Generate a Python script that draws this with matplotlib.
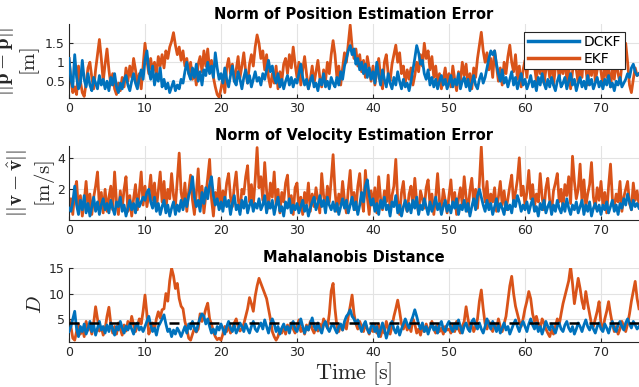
import numpy as np
import matplotlib
matplotlib.use("Agg")
import matplotlib.pyplot as plt

# 색상 / 스타일
BLUE = "#0072BD"
ORANGE = "#D95319"
AX_COLOR = "#262626"
GRID_COLOR = "#e3e3e3"

plt.rcParams["mathtext.fontset"] = "cm"
plt.rcParams["font.family"] = "DejaVu Sans"

# ---- data (20 samples per 5 s) ----
pos_ekf = [
    1.10, 0.55, 0.20, 0.35, 0.15, 0.90, 0.50, 0.20, 0.10, 0.45, 0.85, 1.00, 0.60, 0.30, 0.80, 1.20, 1.60, 1.10, 0.50, 0.95,
    1.35, 0.80, 0.40, 0.70, 0.30, 0.15, 0.45, 0.25, 0.60, 0.35, 0.85, 0.50, 0.90, 0.60, 1.10, 0.80, 0.40, 0.70, 0.30, 0.90,
    1.50, 1.05, 0.70, 1.10, 0.75, 1.00, 0.65, 1.15, 0.90, 1.20, 0.85, 1.30, 1.10, 1.40, 1.55, 1.78, 1.45, 1.20, 1.40, 1.05,
    1.30, 0.90, 1.10, 0.70, 1.00, 0.55, 0.80, 0.40, 0.95, 1.15, 0.75, 1.30, 0.90, 1.35, 0.80, 1.05, 0.60, 0.35, 0.15, 0.08,
    0.30, 0.60, 0.20, 0.85, 1.10, 0.70, 0.95, 0.50, 0.80, 1.15, 0.60, 0.90, 1.25, 0.75, 0.45, 0.95, 1.20, 0.90, 1.40, 1.72,
    1.50, 1.10, 1.30, 0.80, 1.20, 0.60, 0.35, 0.70, 0.45, 0.90, 0.30, 0.75, 0.50, 0.95, 1.10, 0.70, 1.20, 0.85, 1.40, 0.95,
    0.60, 1.00, 0.40, 0.80, 1.15, 0.70, 0.30, 0.55, 0.90, 0.45, 0.75, 1.05, 0.60, 0.35, 0.80, 0.50, 1.00, 0.70, 1.20, 1.57,
    1.20, 0.60, 0.90, 0.40, 0.85, 1.25, 1.00, 1.50, 1.98, 1.40, 1.10, 1.35, 0.90, 1.20, 0.75, 1.05, 0.60, 1.15, 0.85, 0.50,
    0.90, 0.40, 0.75, 1.10, 0.60, 0.30, 1.00, 1.20, 0.70, 0.50, 0.95, 1.20, 1.45, 1.00, 1.25, 0.70, 0.90, 0.45, 0.80, 0.55,
    0.85, 0.40, 0.65, 1.00, 0.75, 1.20, 0.90, 1.50, 1.10, 1.30, 0.80, 1.15, 0.60, 0.90, 0.40, 0.70, 0.30, 0.55, 0.85, 0.45,
    0.70, 0.35, 0.90, 0.55, 0.25, 0.75, 0.50, 1.00, 0.65, 0.95, 0.40, 0.70, 0.30, 0.85, 0.60, 1.10, 1.45, 1.79, 1.30, 1.00,
    1.25, 0.80, 1.10, 0.60, 1.30, 0.90, 0.50, 0.85, 0.40, 1.00, 0.70, 1.15, 1.45, 1.00, 0.75, 1.20, 0.55, 0.90, 0.35, 0.80,
    1.05, 0.60, 1.20, 0.85, 1.30, 0.90, 0.50, 1.10, 0.70, 1.25, 0.45, 0.80, 1.00, 0.60, 1.20, 0.40, 0.85, 1.10, 0.55, 0.95,
    0.70, 1.15, 0.50, 0.90, 0.30, 0.75, 1.25, 0.80, 0.45, 1.00, 0.60, 1.30, 0.85, 0.40, 0.95, 0.65, 1.10, 0.50, 0.80, 1.20,
    0.75, 0.40, 1.00, 0.60, 0.90, 0.35, 0.80, 0.55, 1.05, 0.70, 0.45, 0.95, 1.20, 1.50, 1.00, 0.40, 0.20, 0.55, 0.85, 0.65,
    0.70,
]
pos_dckf = [
    1.10, 0.55, 0.35, 1.20, 0.60, 0.30, 0.45, 1.05, 0.55, 0.35, 0.70, 0.40, 0.25, 0.60, 0.45, 0.30, 0.65, 0.40, 0.55, 0.30,
    0.50, 0.25, 0.60, 0.40, 0.70, 0.35, 0.20, 0.45, 0.30, 0.55, 0.65, 0.40, 0.25, 0.50, 0.70, 0.45, 0.30, 0.60, 0.80, 0.55,
    1.05, 1.30, 0.80, 0.55, 0.90, 0.40, 0.70, 0.50, 0.85, 0.35, 0.55, 0.30, 0.45, 0.20, 0.35, 0.50, 0.25, 0.40, 0.30, 0.55,
    0.45, 0.75, 1.00, 0.70, 0.55, 0.85, 0.60, 0.95, 0.50, 0.75, 0.40, 0.80, 0.65, 1.00, 0.70, 0.90, 0.60, 1.25, 0.85, 0.55,
    0.70, 0.45, 0.85, 0.55, 0.35, 0.65, 0.90, 0.50, 0.40, 0.75, 0.55, 0.30, 0.60, 0.80, 0.45, 0.65, 0.35, 0.55, 0.75, 0.50,
    0.60, 0.40, 0.70, 0.55, 0.80, 1.05, 0.75, 0.90, 0.60, 0.45, 0.70, 0.35, 0.55, 0.30, 0.50, 0.65, 0.40, 0.60, 0.35, 0.55,
    0.45, 0.70, 0.95, 0.60, 0.40, 0.55, 0.30, 0.50, 0.65, 0.35, 0.45, 0.25, 0.55, 0.40, 0.70, 0.35, 0.50, 0.30, 0.60, 0.45,
    0.35, 0.60, 0.40, 0.75, 0.55, 0.90, 1.10, 1.30, 1.44, 1.20, 1.35, 0.95, 1.10, 0.80, 1.00, 0.70, 0.95, 0.60, 0.85, 0.55,
    0.75, 0.45, 1.00, 0.65, 0.40, 0.80, 0.55, 0.35, 0.70, 0.45, 0.30, 0.60, 0.40, 0.75, 0.50, 0.30, 0.55, 0.35, 0.45, 0.25,
    0.50, 0.80, 1.10, 1.44, 1.25, 0.95, 1.05, 0.70, 0.55, 0.80, 0.40, 0.60, 0.35, 0.55, 0.30, 0.50, 0.65, 0.40, 0.55, 0.30,
    0.45, 0.65, 0.35, 0.55, 0.40, 0.70, 0.30, 0.50, 0.60, 0.35, 0.55, 0.25, 0.45, 0.65, 0.40, 0.30, 0.55, 0.70, 0.45, 0.60,
    0.85, 1.10, 1.30, 1.20, 1.30, 0.95, 0.70, 0.50, 0.80, 0.45, 0.60, 0.35, 0.55, 0.75, 0.40, 0.60, 0.30, 0.50, 0.70, 0.40,
    0.55, 0.30, 0.45, 0.65, 0.35, 0.50, 0.25, 0.60, 0.40, 0.70, 0.45, 0.30, 0.55, 0.35, 0.60, 0.40, 0.25, 0.50, 0.65, 0.35,
    0.45, 0.60, 0.30, 0.50, 0.70, 0.40, 0.55, 0.25, 0.45, 0.60, 0.35, 0.50, 0.30, 0.65, 0.40, 0.55, 0.30, 0.45, 0.60, 0.35,
    0.50, 0.30, 0.55, 0.40, 0.65, 0.35, 0.45, 0.25, 0.50, 0.40, 0.60, 0.35, 0.45, 0.55, 0.70, 0.60, 0.85, 0.95, 0.75, 0.65,
    0.70,
]
vel_ekf = [
    0.70, 1.40, 0.40, 1.90, 2.50, 0.60, 1.60, 0.30, 1.20, 2.50, 0.80, 1.70, 0.40, 1.50, 2.20, 3.10, 0.90, 1.80, 0.50, 2.00,
    0.60, 1.50, 2.20, 0.70, 3.10, 1.20, 0.40, 1.90, 0.80, 2.00, 2.80, 0.60, 1.60, 0.30, 1.40, 2.30, 0.70, 1.80, 3.10, 1.00,
    2.20, 0.90, 1.70, 2.90, 1.30, 2.40, 0.80, 1.90, 3.10, 1.20, 2.50, 0.70, 2.00, 1.40, 3.00, 1.60, 0.90, 2.60, 4.30, 1.80,
    1.10, 2.40, 0.60, 1.90, 2.90, 1.30, 0.40, 1.70, 3.30, 1.00, 2.20, 0.50, 1.60, 2.70, 3.90, 1.40, 0.30, 1.80, 1.10, 2.70,
    0.80, 1.90, 1.30, 2.40, 3.00, 1.50, 0.90, 2.20, 3.10, 1.40, 0.60, 2.00, 1.70, 2.80, 3.50, 1.20, 2.30, 1.00, 2.60, 4.65,
    2.10, 2.80, 1.30, 3.70, 1.90, 0.80, 2.40, 1.50, 3.10, 1.00, 2.00, 0.50, 1.80, 1.20, 2.40, 2.90, 0.90, 1.60, 0.40, 2.10,
    2.40, 0.70, 1.50, 0.40, 1.80, 1.10, 2.40, 0.60, 1.70, 0.90, 2.10, 1.30, 0.50, 3.00, 1.60, 0.80, 2.20, 1.20, 2.60, 4.20,
    1.90, 0.60, 1.70, 1.00, 2.50, 1.30, 0.50, 2.00, 3.20, 1.10, 1.80, 0.70, 2.20, 3.00, 1.40, 0.60, 3.20, 1.50, 0.40, 1.90,
    1.00, 2.10, 0.50, 2.80, 1.40, 0.70, 1.90, 1.20, 2.90, 0.60, 1.60, 2.20, 3.90, 1.30, 0.40, 1.80, 2.50, 1.00, 0.60, 1.70,
    2.20, 0.90, 2.70, 1.20, 0.50, 1.90, 1.40, 0.80, 2.10, 2.60, 1.00, 1.70, 0.40, 1.50, 3.00, 1.20, 0.70, 2.00, 1.30, 0.50,
    1.60, 2.60, 0.90, 1.80, 0.40, 1.40, 2.10, 1.00, 2.80, 1.50, 0.60, 1.90, 2.70, 1.10, 2.00, 0.80, 2.40, 4.70, 2.20, 1.20,
    2.50, 0.80, 1.70, 1.20, 2.10, 0.60, 1.50, 2.50, 1.00, 1.90, 0.70, 1.40, 2.20, 2.90, 1.10, 1.80, 2.60, 4.00, 1.60, 2.20,
    1.00, 1.80, 3.20, 1.40, 2.30, 0.90, 1.70, 1.20, 3.00, 1.50, 0.70, 2.10, 2.70, 1.30, 0.60, 1.90, 2.40, 3.00, 1.20, 2.00,
    0.80, 2.30, 1.60, 2.80, 1.10, 4.10, 2.50, 1.40, 2.00, 3.60, 1.20, 2.60, 0.90, 1.70, 2.30, 3.70, 1.50, 0.80, 2.10, 1.30,
    2.50, 1.00, 1.80, 0.50, 2.20, 3.60, 1.40, 0.90, 1.70, 1.20, 2.50, 0.60, 1.50, 2.00, 2.50, 1.10, 0.70, 2.40, 1.30, 1.90,
    1.00,
]
vel_dckf = [
    0.80, 0.60, 1.20, 2.20, 1.00, 0.40, 1.30, 0.70, 1.60, 0.50, 1.10, 0.30, 0.90, 1.50, 0.60, 1.20, 0.40, 1.00, 1.40, 0.70,
    1.10, 0.50, 1.30, 0.80, 0.40, 1.20, 0.90, 1.50, 0.60, 1.00, 0.30, 0.80, 1.30, 0.70, 1.10, 0.50, 1.40, 0.90, 1.20, 1.50,
    1.30, 1.80, 2.00, 1.20, 0.80, 1.50, 0.60, 1.10, 0.40, 0.90, 1.30, 0.50, 1.00, 0.30, 0.80, 1.20, 0.40, 1.00, 0.60, 1.30,
    0.70, 1.40, 0.90, 1.60, 2.00, 2.80, 1.50, 0.90, 1.30, 0.60, 1.80, 1.10, 2.10, 1.40, 2.30, 2.80, 1.60, 1.00, 1.40, 0.70,
    1.20, 0.60, 1.50, 0.90, 1.30, 0.40, 1.10, 1.60, 0.70, 1.00, 0.40, 1.30, 0.80, 1.50, 0.50, 1.00, 1.30, 0.60, 1.10, 0.80,
    1.40, 0.70, 1.00, 1.60, 0.50, 1.20, 0.80, 1.30, 0.40, 1.00, 1.50, 0.60, 0.90, 0.30, 1.20, 0.80, 1.40, 0.50, 1.00, 0.70,
    1.10, 0.50, 0.90, 1.30, 0.60, 1.00, 0.30, 0.80, 1.20, 1.50, 0.70, 1.10, 1.60, 0.90, 1.30, 0.50, 1.50, 1.00, 0.70, 1.20,
    0.60, 1.10, 0.40, 0.90, 1.40, 0.80, 1.30, 0.50, 1.00, 1.50, 0.70, 1.20, 0.40, 1.00, 1.80, 1.20, 2.20, 2.60, 1.60, 1.00,
    1.40, 0.60, 1.10, 0.40, 1.30, 0.80, 1.50, 0.70, 1.00, 0.30, 1.20, 0.90, 1.60, 0.50, 1.00, 0.30, 0.90, 1.30, 0.60, 1.10,
    0.50, 1.30, 0.80, 1.50, 0.40, 1.00, 0.70, 1.40, 0.90, 0.40, 1.20, 0.60, 1.00, 1.50, 0.70, 1.10, 0.40, 0.90, 1.30, 0.60,
    1.00, 0.50, 1.20, 0.80, 1.40, 0.40, 1.00, 0.70, 1.30, 0.60, 1.10, 0.30, 0.90, 1.40, 0.70, 1.60, 2.00, 1.50, 1.00, 0.60,
    1.30, 0.70, 1.10, 0.40, 0.90, 1.40, 0.60, 1.10, 0.80, 0.40, 1.20, 0.70, 1.00, 0.50, 1.30, 0.90, 1.60, 1.20, 0.60, 1.00,
    0.70, 1.20, 0.50, 1.00, 1.40, 0.60, 0.90, 0.30, 1.10, 0.70, 1.30, 0.50, 0.90, 1.20, 0.40, 1.00, 0.60, 1.30, 0.80, 0.50,
    1.10, 0.60, 1.40, 0.80, 0.40, 1.00, 0.70, 1.20, 0.50, 0.90, 1.30, 0.40, 1.00, 0.60, 1.20, 0.30, 0.80, 1.10, 0.60, 1.00,
    0.40, 1.00, 0.70, 1.20, 0.50, 0.90, 1.30, 0.60, 1.00, 0.40, 1.10, 0.80, 1.40, 1.00, 1.70, 1.20, 0.70, 1.30, 0.90, 1.10,
    0.80,
]
maha_ekf = [
    4.80, 3.50, 1.20, 0.80, 2.50, 4.00, 2.00, 3.20, 1.50, 4.50, 2.80, 3.60, 2.00, 4.20, 7.40, 5.00, 2.60, 3.40, 1.80, 3.00,
    5.50, 7.30, 4.00, 2.20, 3.50, 2.00, 4.20, 3.00, 1.80, 3.80, 2.60, 4.50, 3.20, 5.50, 3.80, 2.50, 3.60, 5.00, 4.00, 6.50,
    9.70, 6.00, 2.00, 3.00, 4.20, 3.00, 5.00, 6.40, 5.20, 6.80, 7.00, 10.0, 8.50, 12.5, 15.0, 13.5, 11.0, 12.0, 9.00, 7.50,
    7.00, 4.50, 3.00, 1.20, 0.80, 2.00, 3.20, 2.40, 3.00, 6.00, 4.50, 5.50, 7.00, 8.10, 5.00, 4.00, 2.50, 1.50, 0.90, 1.20,
    0.80, 2.00, 3.50, 2.50, 3.80, 2.20, 3.00, 4.20, 5.00, 3.50, 2.60, 3.20, 4.00, 5.50, 7.00, 9.20, 8.00, 6.50, 9.50, 11.5,
    13.0, 12.0, 11.0, 10.0, 9.00, 7.00, 5.00, 2.50, 1.50, 0.80, 1.50, 3.00, 2.20, 3.50, 2.00, 3.80, 2.80, 4.20, 3.00, 2.20,
    3.50, 4.80, 2.50, 3.20, 2.00, 3.80, 2.80, 4.50, 3.00, 2.20, 3.60, 2.60, 4.00, 3.00, 5.00, 4.00, 3.20, 6.00, 10.5, 12.0,
    7.00, 3.50, 2.50, 3.80, 2.80, 4.20, 3.00, 5.50, 7.50, 9.70, 6.00, 4.00, 3.00, 4.50, 3.50, 2.50, 4.00, 3.00, 2.00, 3.20,
    2.50, 3.80, 2.20, 4.00, 1.50, 3.00, 2.20, 4.50, 3.20, 2.00, 3.50, 5.50, 7.00, 8.70, 6.50, 4.00, 3.00, 4.50, 2.80, 3.60,
    2.50, 5.00, 4.00, 2.20, 3.00, 1.80, 3.50, 2.50, 4.00, 2.80, 3.20, 4.50, 3.00, 2.20, 3.80, 2.50, 3.20, 2.00, 3.50, 2.80,
    3.00, 2.20, 3.80, 2.50, 4.50, 3.00, 2.20, 3.50, 4.50, 7.40, 5.00, 3.00, 4.00, 2.50, 3.50, 5.00, 8.50, 10.7, 7.00, 4.00,
    3.00, 4.50, 3.20, 2.50, 4.00, 3.00, 5.00, 3.50, 2.50, 4.00, 5.50, 8.50, 11.5, 13.4, 10.0, 7.50, 6.00, 4.50, 3.50, 5.00,
    7.00, 8.50, 10.4, 9.00, 6.00, 4.50, 5.50, 4.00, 3.00, 5.00, 4.20, 3.00, 2.20, 1.50, 2.80, 2.00, 3.50, 5.00, 3.80, 6.00,
    8.00, 9.50, 11.0, 12.5, 15.3, 12.0, 8.00, 10.5, 13.0, 11.0, 8.50, 7.00, 10.4, 8.00, 6.00, 4.00, 3.50, 5.00, 6.50, 8.40,
    4.00, 3.00, 5.00, 6.50, 8.40, 6.00, 4.00, 2.50, 3.50, 2.00, 3.00, 4.50, 3.50, 2.50, 4.00, 6.00, 8.50, 10.5, 12.4, 9.00,
    7.00,
]
maha_dckf = [
    2.50, 3.50, 5.00, 6.50, 3.00, 1.50, 3.50, 2.50, 4.00, 2.00, 3.00, 4.50, 2.50, 3.80, 1.80, 3.20, 4.50, 2.80, 3.50, 2.20,
    3.80, 2.50, 4.20, 3.00, 1.80, 3.50, 2.80, 4.50, 3.20, 2.20, 3.60, 2.80, 4.00, 3.00, 2.00, 3.50, 4.20, 2.80, 3.40, 2.50,
    3.50, 4.50, 5.50, 3.80, 2.50, 3.20, 1.80, 3.50, 4.20, 5.00, 5.80, 4.00, 2.50, 3.00, 1.50, 2.80, 2.00, 3.20, 2.50, 1.50,
    2.50, 3.50, 2.20, 4.00, 3.00, 4.50, 3.20, 2.50, 4.00, 5.20, 6.00, 5.50, 4.00, 5.00, 3.50, 2.20, 3.00, 2.00, 3.50, 2.80,
    4.00, 3.00, 2.00, 3.50, 4.50, 3.20, 2.50, 3.80, 2.20, 3.00, 4.20, 3.50, 2.50, 4.00, 3.00, 2.20, 3.50, 4.50, 3.00, 2.50,
    3.50, 4.20, 3.00, 4.80, 3.50, 2.20, 3.80, 5.00, 4.00, 2.50, 3.50, 2.00, 3.20, 4.00, 2.80, 3.50, 2.20, 3.80, 4.50, 3.00,
    2.50, 3.80, 5.00, 3.50, 2.20, 3.50, 2.80, 4.00, 5.20, 3.50, 2.80, 4.20, 3.00, 2.20, 3.80, 4.50, 3.20, 2.50, 3.50, 4.00,
    3.00, 2.20, 3.50, 4.00, 2.80, 4.50, 5.50, 6.00, 6.80, 5.50, 5.00, 4.00, 4.80, 3.50, 2.50, 3.80, 4.50, 3.00, 2.20, 3.50,
    4.00, 2.50, 3.50, 1.50, 2.80, 4.20, 3.00, 1.20, 2.50, 3.80, 4.50, 3.00, 2.20, 3.50, 1.80, 3.00, 4.00, 5.00, 4.00, 3.20,
    4.50, 5.50, 6.80, 5.50, 4.00, 3.00, 4.20, 2.50, 3.50, 2.00, 3.20, 4.00, 2.80, 3.50, 2.20, 3.80, 4.50, 3.00, 2.50, 3.80,
    4.50, 3.20, 2.50, 4.00, 3.00, 4.80, 3.50, 2.20, 3.60, 4.20, 3.00, 2.50, 4.50, 5.00, 3.80, 3.00, 4.20, 3.00, 2.20, 3.50,
    5.00, 4.00, 3.00, 4.50, 3.50, 2.50, 3.80, 2.20, 3.20, 4.20, 2.80, 3.50, 2.00, 3.00, 4.00, 4.80, 3.50, 2.50, 3.80, 4.50,
    3.50, 2.50, 4.00, 5.00, 3.80, 3.00, 4.20, 2.50, 3.50, 2.00, 3.20, 4.50, 3.50, 2.80, 4.00, 3.00, 2.20, 3.50, 4.20, 3.00,
    2.50, 3.80, 4.50, 3.20, 2.50, 3.50, 2.00, 3.00, 4.20, 3.50, 2.50, 3.80, 4.80, 3.50, 2.80, 4.00, 3.00, 2.20, 3.50, 4.20,
    3.00, 2.50, 4.00, 3.20, 2.20, 3.50, 4.50, 3.00, 2.50, 3.80, 4.50, 3.50, 2.80, 4.20, 5.00, 4.00, 3.20, 4.50, 3.80, 3.00,
    3.50,
]
maha_threshold = 4.1

t_end = 75.0
time = np.linspace(0, t_end, len(pos_ekf))

titles = ["Norm of Position Estimation Error",
          "Norm of Velocity Estimation Error",
          "Mahalanobis Distance"]
ylabels = ["$||\\mathbf{p}-\\hat{\\mathbf{p}}||$\n$[\\mathrm{m}]$",
           "$||\\mathbf{v}-\\hat{\\mathbf{v}}||$\n$[\\mathrm{m/s}]$",
           "$D$"]
yticks = [[0.5, 1, 1.5], [2, 4], [5, 10, 15]]
ylims = [(0.05, 2.0), (0.05, 4.75), (0.5, 15.1)]
xticks = [0, 10, 20, 30, 40, 50, 60, 70]
# right edge of the (rotated) y label, axes fraction
label_x = [-0.047, -0.021, -0.042]


def style_axes(ax):
    for side in ["top", "right"]:
        ax.spines[side].set_visible(False)
    for side in ["left", "bottom"]:
        ax.spines[side].set_color(AX_COLOR)
        ax.spines[side].set_linewidth(0.8)
    ax.tick_params(direction="in", length=3, width=0.8, colors=AX_COLOR,
                   labelsize=9, pad=3)
    ax.grid(True, color=GRID_COLOR, linewidth=0.8)
    ax.set_axisbelow(True)


fig = plt.figure(figsize=(6.39, 3.87), dpi=100)
W, H = 639, 387
ax_left = 69 / W
ax_w = 1 - ax_left
bottoms = [1 - 98.3 / H, 1 - 220 / H, 1 - 341.7 / H]
ax_h = 74 / H

series = [(pos_dckf, pos_ekf), (vel_dckf, vel_ekf), (maha_dckf, maha_ekf)]
axes = []
for i, (dckf, ekf) in enumerate(series):
    ax = fig.add_axes([ax_left, bottoms[i], ax_w, ax_h])
    style_axes(ax)
    l_ekf, = ax.plot(time, ekf, color=ORANGE, linewidth=2.0, label="EKF", zorder=2)
    l_dckf, = ax.plot(time, dckf, color=BLUE, linewidth=2.0, label="DCKF", zorder=3)
    if i == 2:
        ax.plot([0, t_end], [maha_threshold, maha_threshold], color="black",
                linewidth=1.8, linestyle=(0, (4, 4)), zorder=4)
    ax.set_xlim(0, t_end)
    ax.set_ylim(*ylims[i])
    ax.set_xticks(xticks)
    ax.set_yticks(yticks[i])
    ax.set_yticklabels([f"{v:g}" for v in yticks[i]])
    ax.set_title(titles[i], fontsize=10.5, fontweight="bold", pad=4)
    ax.set_ylabel(ylabels[i], fontsize=15, color=AX_COLOR, linespacing=1.1)
    ax.yaxis.set_label_coords(label_x[i], 0.5)
    if i == 0:
        leg = ax.legend([l_dckf, l_ekf], ["DCKF", "EKF"], loc="upper right",
                        bbox_to_anchor=(0.975, 0.9), fontsize=10,
                        fancybox=False, framealpha=1, edgecolor=AX_COLOR,
                        handlelength=3.7, handletextpad=0.35, labelspacing=0.2,
                        borderpad=0.25, borderaxespad=0)
        leg.get_frame().set_linewidth(0.8)
        for h in leg.get_lines():
            h.set_linewidth(2.5)
    axes.append(ax)

axes[2].set_xlabel("$\\mathrm{Time}\\ [\\mathrm{s}]$", fontsize=16, color=AX_COLOR,
                   labelpad=1)

fig.savefig("out.png", dpi=100, facecolor="white")
plt.close(fig)
